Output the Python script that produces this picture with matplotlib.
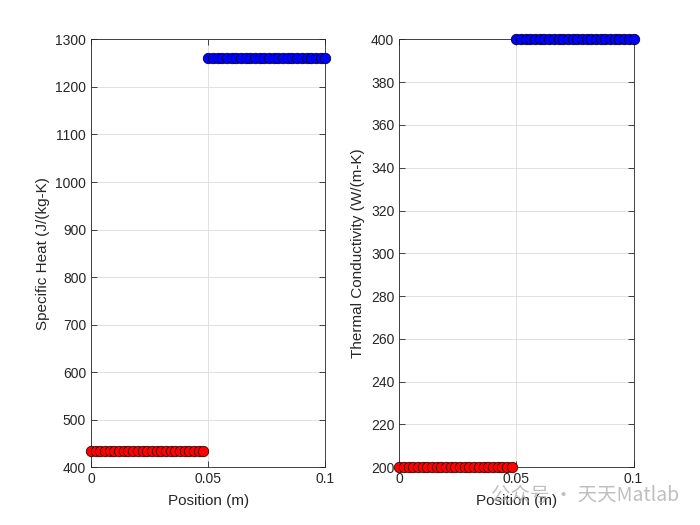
import numpy as np
import matplotlib
matplotlib.use("Agg")
import matplotlib.pyplot as plt

plt.rcParams['font.family'] = ['Liberation Sans', 'DejaVu Sans']

# Positions along the rod (m)
position = np.round(np.arange(0, 0.1001, 0.002), 4)
is_left = position < 0.05

# Material properties
cp_left, cp_right = 434, 1260          # J/(kg-K)
k_left, k_right = 200, 400             # W/(m-K)

specific_heat = np.where(is_left, cp_left, cp_right)
conductivity = np.where(is_left, k_left, k_right)

fig = plt.figure(figsize=(7, 5.25), dpi=100)
ax1 = fig.add_axes([0.13, 0.11, 0.3347, 0.815])
ax2 = fig.add_axes([0.5703, 0.11, 0.3347, 0.815])


def style_axes(ax, ylim, yticks):
    ax.set_xlim(0, 0.1)
    ax.set_ylim(*ylim)
    ax.set_xticks([0, 0.05, 0.1])
    ax.set_xticklabels(["0", "0.05", "0.1"])
    ax.set_yticks(yticks)
    ax.grid(True, color="#dcdcdc", linewidth=0.6)
    ax.set_axisbelow(True)
    ax.tick_params(direction="in", top=True, right=True, labelsize=10,
                   length=4, width=0.6, colors="#262626")
    for s in ax.spines.values():
        s.set_linewidth(0.6)
        s.set_color("#262626")
    ax.set_xlabel("Position (m)", fontsize=11, color="#262626", labelpad=6)


for ax, vals, ylim, yticks, ylabel in [
    (ax1, specific_heat, (400, 1300), np.arange(400, 1301, 100), "Specific Heat (J/(kg-K)"),
    (ax2, conductivity, (200, 400), np.arange(200, 401, 20), "Thermal Conductivity (W/(m-K)"),
]:
    ax.plot(position[is_left], vals[is_left], "o", color="red", markeredgecolor="#400000",
            markersize=7.5, markeredgewidth=0.6, clip_on=False, zorder=3)
    ax.plot(position[~is_left], vals[~is_left], "o", color="blue", markeredgecolor="#000040",
            markersize=7.5, markeredgewidth=0.6, clip_on=False, zorder=3)
    style_axes(ax, ylim, yticks)
    ax.set_ylabel(ylabel, fontsize=11, color="#262626")

# watermark
fig.text(0.97, 0.056, "公众号 · 天天Matlab", ha="right", va="center", fontsize=14,
         color="#b4b4b4", alpha=0.85, family=['Noto Sans CJK SC', 'DejaVu Sans'])

fig.savefig("out.png", dpi=100)
